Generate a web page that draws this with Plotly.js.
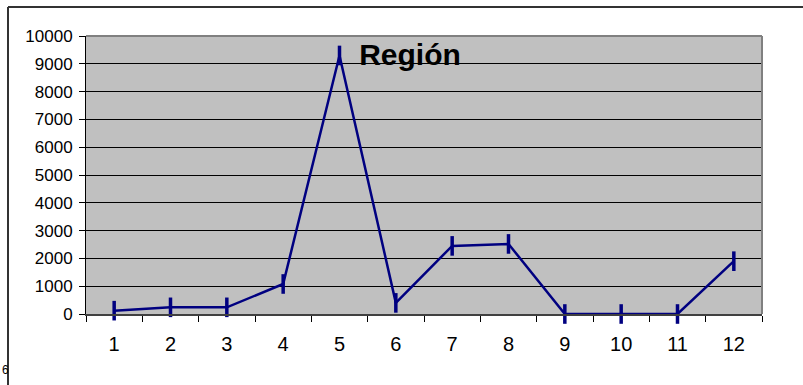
<!DOCTYPE html>
<html>
<head>
<meta charset="utf-8">
<script src="https://cdn.plot.ly/plotly-3.0.1.min.js"></script>
<style>
html, body { margin: 0; padding: 0; background: #ffffff; }
#chart { width: 803px; height: 385px; }
</style>
</head>
<body>
<div id="chart"></div>
<script>
// Data
var categories = ['1', '2', '3', '4', '5', '6', '7', '8', '9', '10', '11', '12'];
var regionValues = [120, 240, 240, 1080, 9300, 400, 2450, 2520, 0, 0, 0, 1900];
var yTickValues = [0, 1000, 2000, 3000, 4000, 5000, 6000, 7000, 8000, 9000, 10000];
var chartTitle = 'Región';

var W = 803, H = 385;
var L = 86, R = 41, T = 36, B = 71;
var pw = W - L - R, ph = H - T - B;
function px(x) { return (x - L) / pw; }
function py(y) { return (H - B - y) / ph; }

var trace = {
  type: 'scatter',
  mode: 'lines+markers',
  x: categories,
  y: regionValues,
  line: { color: '#000080', width: 2.5 },
  marker: { symbol: 'line-ns', size: 14, line: { color: '#000080', width: 3.5 } },
  hoverinfo: 'x+y',
  showlegend: false,
  cliponaxis: false
};

var layout = {
  width: W,
  height: H,
  margin: { l: L, r: R, t: T, b: B, pad: 0 },
  paper_bgcolor: '#ffffff',
  plot_bgcolor: '#c0c0c0',
  font: { family: 'Liberation Sans, Arial, sans-serif', color: '#000000' },
  title: {
    text: chartTitle,
    font: { family: 'Liberation Sans, Arial, sans-serif', size: 30, color: '#000000', weight: 'bold' },
    xref: 'container', x: 410 / W, xanchor: 'center',
    yref: 'container', y: 1 - 54 / H, yanchor: 'middle'
  },
  xaxis: {
    type: 'category',
    range: [-0.5, categories.length - 0.5],
    autorange: false,
    tickson: 'boundaries',
    ticks: 'outside',
    ticklen: 6,
    tickwidth: 1,
    tickcolor: '#000000',
    showgrid: false,
    showline: true,
    linecolor: '#404040',
    linewidth: 2,
    zeroline: false,
    tickfont: { size: 20, color: '#000000' },
    ticklabelstandoff: 11,
    fixedrange: true
  },
  yaxis: {
    range: [0, 10000],
    autorange: false,
    tickvals: yTickValues,
    ticktext: yTickValues.map(String),
    ticks: 'outside',
    ticklen: 6,
    tickwidth: 1,
    tickcolor: '#000000',
    showgrid: true,
    gridcolor: '#000000',
    gridwidth: 1,
    showline: true,
    linecolor: '#000000',
    linewidth: 1,
    zeroline: false,
    tickfont: { size: 17, color: '#000000' },
    ticklabelstandoff: 3,
    fixedrange: true
  },
  shapes: [
    // plot area top and right edges (gray)
    { type: 'line', xref: 'paper', yref: 'paper', x0: 0, x1: 1, y0: 1, y1: 1,
      line: { color: '#808080', width: 2 } },
    { type: 'line', xref: 'paper', yref: 'paper', x0: 1, x1: 1, y0: 0, y1: 1,
      line: { color: '#808080', width: 2 } },
    // outer chart border (left and top)
    { type: 'line', xref: 'paper', yref: 'paper', x0: px(8), x1: px(8), y0: py(7), y1: py(395),
      line: { color: '#333333', width: 2 } },
    { type: 'line', xref: 'paper', yref: 'paper', x0: px(8), x1: px(815), y0: py(7), y1: py(7),
      line: { color: '#333333', width: 2 } }
  ],
  annotations: [
    { text: '6', xref: 'paper', yref: 'paper', x: px(0), y: py(370),
      xanchor: 'left', yanchor: 'middle', showarrow: false,
      font: { size: 12, color: '#000000' } }
  ]
};

Plotly.newPlot('chart', [trace], layout, { displayModeBar: false, staticPlot: true });
</script>
</body>
</html>
